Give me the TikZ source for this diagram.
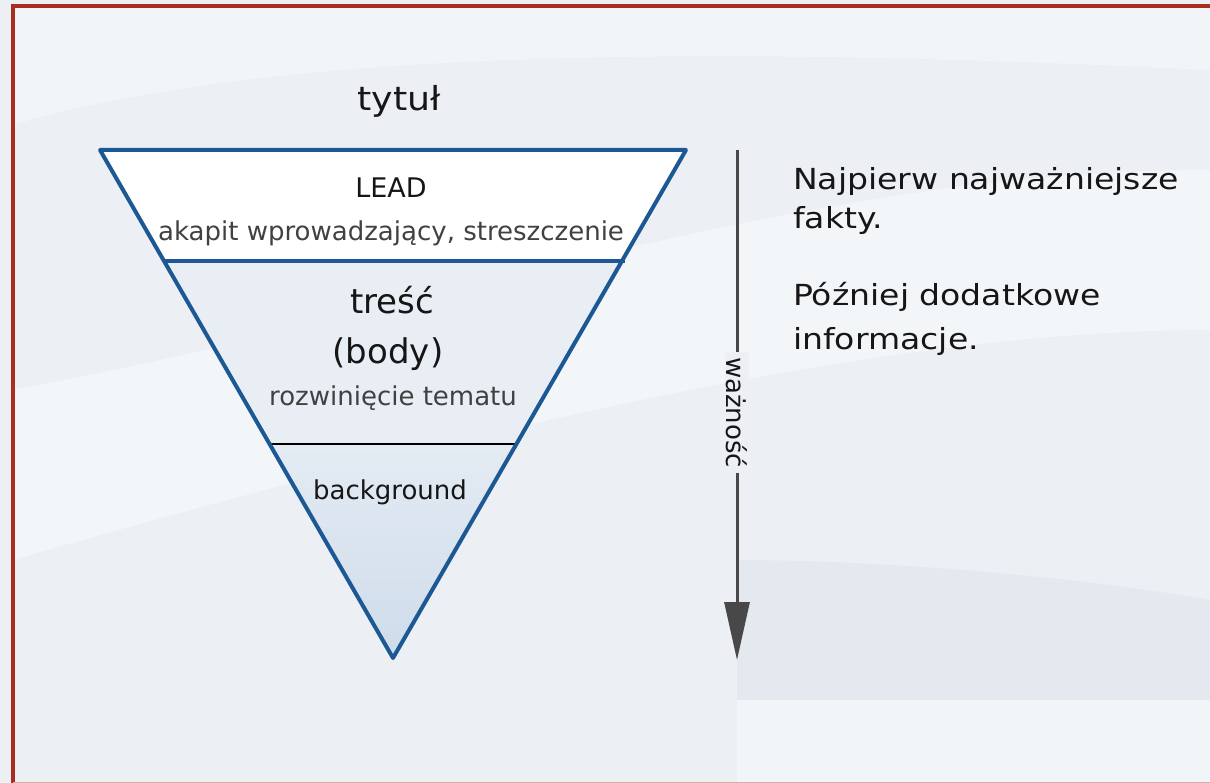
\documentclass[tikz,border=0pt]{standalone}
\usepackage{fontspec}
\setmainfont{DejaVu Sans}
\usetikzlibrary{arrows.meta}
\definecolor{bordred}{RGB}{170,45,32}
\definecolor{bgc}{RGB}{236,240,245}
\definecolor{bgdark}{RGB}{222,228,235}
\definecolor{triblue}{RGB}{28,88,148}
\definecolor{midfill}{RGB}{233,238,245}
\definecolor{botA}{RGB}{228,235,243}
\definecolor{botB}{RGB}{206,220,234}
\definecolor{arrgray}{RGB}{72,72,72}
\definecolor{txtdark}{RGB}{22,22,22}
\definecolor{txtgray}{RGB}{65,65,65}
\newcommand{\wx}[2]{\scalebox{#1}[1]{#2}}
\tikzset{
  lbl/.style={anchor=base,inner sep=0pt},
  small/.style={lbl,font=\fontsize{26}{30}\selectfont,text=txtgray},
  side/.style={font=\fontsize{29}{33}\selectfont,text=txtdark,anchor=base west,inner sep=0pt},
}
\begin{document}
\begin{tikzpicture}[x=1pt,y=-1pt]
\useasboundingbox (0,0) rectangle (1210,783);
% background
\fill[bgc] (0,0) rectangle (1210,783);
\fill[white,opacity=0.35] (12,125) .. controls (300,40) and (800,50) .. (1210,70) -- (1210,5) -- (12,5) -- cycle;
\fill[white,opacity=0.4] (12,390) .. controls (400,320) and (800,170) .. (1210,170) -- (1210,330) .. controls (900,330) and (500,420) .. (12,560) -- cycle;
\fill[bgdark,opacity=0.5] (737,560) .. controls (900,560) and (1100,580) .. (1210,600) -- (1210,700) -- (737,700) -- cycle;
\fill[bgc!70!white] (737,700) rectangle (1210,783);
% border
\draw[bordred,line width=3.5pt] (13,783) -- (13,6) -- (1212,6);
\draw[bordred!40,line width=1pt] (13,782) -- (1212,782);
% triangle coordinates
\coordinate (TL) at (100,150);
\coordinate (TR) at (686,150);
\coordinate (B) at (393,658);
\coordinate (L1) at (164,261);
\coordinate (R1) at (625,261);
\coordinate (L2) at (270,444);
\coordinate (R2) at (517,444);
% fills
\fill[white] (TL) -- (TR) -- (R1) -- (L1) -- cycle;
\fill[midfill] (L1) -- (R1) -- (R2) -- (L2) -- cycle;
\shade[top color=botA,bottom color=botB] (L2) -- (R2) -- (B) -- cycle;
% dividers
\draw[black,line width=1.6pt] (L2) -- (R2);
\draw[triblue,line width=4pt] (L1) -- (R1);
\draw[triblue,line width=4pt,line join=round] (TL) -- (TR) -- (B) -- cycle;
% texts
\node[lbl,font=\fontsize{33}{36}\selectfont,text=txtdark] (title) at (399,111) {\wx{1.1}{tytuł}};
\node[lbl,font=\fontsize{27}{30}\selectfont,text=txtdark] (lead) at (391,198) {LEAD};
\node[small] (leaddesc) at (391,241) {akapit wprowadzający, streszczenie};
\node[lbl,font=\fontsize{34}{38}\selectfont,text=txtdark] (body1) at (392,314) {treść};
\node[lbl,font=\fontsize{34}{38}\selectfont,text=txtdark] (body2) at (388,364) {(body)};
\node[small] (bodydesc) at (393,406) {rozwinięcie tematu};
\node[small,text=txtdark] (bg) at (390,499) {background};
% arrow
\coordinate (A1) at (737,150);
\coordinate (A2) at (737,660);
\draw[arrgray,line width=3pt,-{Triangle[length=58pt,width=25pt]}] (A1) -- (A2)
  node[pos=0.515,rotate=-90,fill=bgc,inner xsep=5pt,inner ysep=1pt,text=txtdark,font=\fontsize{26}{28}\selectfont] (waz) {ważność};
% side text
\node[side] (t1) at (793,190) {\wx{1.14}{Najpierw najważniejsze}};
\node[side] (t2) at (793,229) {\wx{1.14}{fakty.}};
\node[side] (t3) at (793,306) {\wx{1.14}{Później dodatkowe}};
\node[side] (t4) at (793,350) {\wx{1.14}{informacje.}};
\end{tikzpicture}
\end{document}
